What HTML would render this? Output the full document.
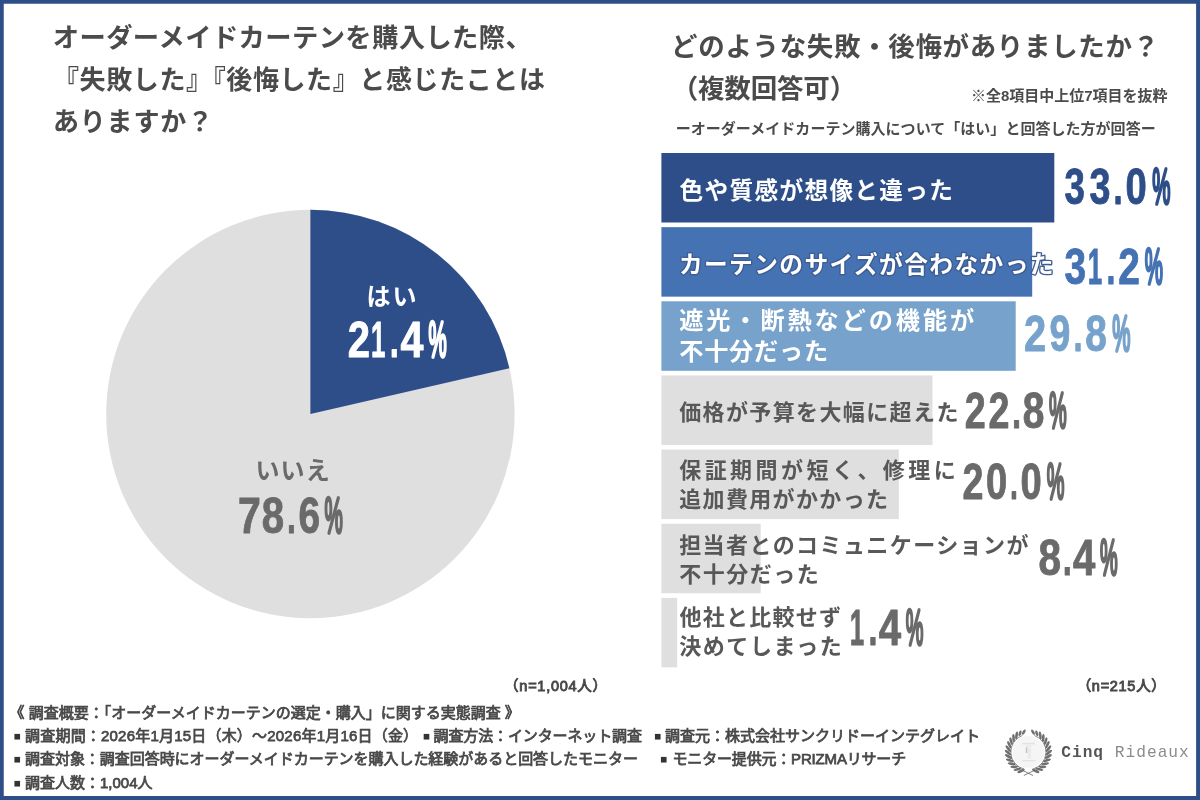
<!DOCTYPE html>
<html lang="ja"><head><meta charset="utf-8"><title>オーダーメイドカーテン調査</title>
<style>
html,body{margin:0;padding:0;background:#fff;}
body{width:1200px;height:800px;overflow:hidden;font-family:"Liberation Sans", "Noto Sans CJK JP", sans-serif;}
svg{display:block}
text{white-space:pre}
</style></head><body>
<svg width="1200" height="800" viewBox="0 0 1200 800">
<rect width="1200" height="800" fill="#fff"/>
<circle cx="310.4" cy="414" r="204.2" fill="#dfdfdf"/>
<path d="M310.4,414 L310.4,209.8 A204.2,204.2 0 0 1 509.40,368.20 Z" fill="#2e4e89"/>
<text x="52.8" y="47.2" font-size="26.3" font-weight="700" fill="#4b4b4b" font-family='"Liberation Sans", "Noto Sans CJK JP", sans-serif' textLength="479" lengthAdjust="spacing">オーダーメイドカーテンを購入した際、</text>
<text x="53" y="88.9" font-size="26" font-weight="700" fill="#4b4b4b" font-family='"Liberation Sans", "Noto Sans CJK JP", sans-serif' textLength="492" lengthAdjust="spacing">『失敗した』『後悔した』と感じたことは</text>
<text x="53" y="131.2" font-size="26" font-weight="700" fill="#4b4b4b" font-family='"Liberation Sans", "Noto Sans CJK JP", sans-serif' textLength="160" lengthAdjust="spacing">ありますか？</text>
<text x="671.1" y="55.5" font-size="26.5" font-weight="700" fill="#4b4b4b" font-family='"Liberation Sans", "Noto Sans CJK JP", sans-serif' textLength="488" lengthAdjust="spacing">どのような失敗・後悔がありましたか？</text>
<text x="671.7" y="97.7" font-size="26.5" font-weight="700" fill="#4b4b4b" font-family='"Liberation Sans", "Noto Sans CJK JP", sans-serif' textLength="184.5" lengthAdjust="spacing">（複数回答可）</text>
<text x="971" y="101" font-size="15" font-weight="700" fill="#4b4b4b" font-family='"Liberation Sans", "Noto Sans CJK JP", sans-serif' textLength="196.5" lengthAdjust="spacing">※全8項目中上位7項目を抜粋</text>
<text x="675.7" y="133.9" font-size="15" font-weight="700" fill="#4b4b4b" font-family='"Liberation Sans", "Noto Sans CJK JP", sans-serif' textLength="480" lengthAdjust="spacing">ーオーダーメイドカーテン購入について「はい」と回答した方が回答ー</text>
<rect x="661.4" y="153.0" width="392.9" height="69.5" fill="#2e4e89"/>
<rect x="661.4" y="227.15" width="370.80000000000007" height="69.5" fill="#4472b3"/>
<rect x="661.4" y="301.3" width="354.30000000000007" height="69.5" fill="#77a2cb"/>
<rect x="661.4" y="375.45000000000005" width="271.1" height="69.5" fill="#dfdfdf"/>
<rect x="661.4" y="449.6" width="237.39999999999998" height="69.5" fill="#dfdfdf"/>
<rect x="661.4" y="523.75" width="99.30000000000007" height="69.5" fill="#dfdfdf"/>
<rect x="661.4" y="597.9000000000001" width="15.800000000000068" height="69.5" fill="#dfdfdf"/>
<text x="679.6" y="198.8" font-size="23.7" font-weight="700" fill="#fff" font-family='"Liberation Sans", "Noto Sans CJK JP", sans-serif' textLength="273.34" lengthAdjust="spacing">色や質感が想像と違った</text>
<text x="678.9" y="272.5" font-size="23.7" font-weight="700" fill="#fff" font-family='"Liberation Sans", "Noto Sans CJK JP", sans-serif' textLength="374.54" lengthAdjust="spacing" stroke="#3c5c93" stroke-width="2.7" paint-order="stroke" stroke-linejoin="round">カーテンのサイズが合わなかった</text>
<text x="679.2" y="328.8" font-size="24.2" font-weight="700" fill="#fff" font-family='"Liberation Sans", "Noto Sans CJK JP", sans-serif' textLength="295.03" lengthAdjust="spacing">遮光・断熱などの機能が</text>
<text x="679.2" y="359.8" font-size="24.2" font-weight="700" fill="#fff" font-family='"Liberation Sans", "Noto Sans CJK JP", sans-serif' textLength="148.98" lengthAdjust="spacing">不十分だった</text>
<text x="679.2" y="420.2" font-size="22" font-weight="700" fill="#585858" font-family='"Liberation Sans", "Noto Sans CJK JP", sans-serif' textLength="279.2" lengthAdjust="spacing">価格が予算を大幅に超えた</text>
<text x="679.2" y="477.7" font-size="22" font-weight="700" fill="#585858" font-family='"Liberation Sans", "Noto Sans CJK JP", sans-serif' textLength="276.6" lengthAdjust="spacing">保証期間が短く、修理に</text>
<text x="679.2" y="507.2" font-size="22" font-weight="700" fill="#585858" font-family='"Liberation Sans", "Noto Sans CJK JP", sans-serif' textLength="208.8" lengthAdjust="spacing">追加費用がかかった</text>
<text x="679.2" y="553" font-size="22" font-weight="700" fill="#585858" font-family='"Liberation Sans", "Noto Sans CJK JP", sans-serif' textLength="349.24" lengthAdjust="spacing">担当者とのコミュニケーションが</text>
<text x="679.2" y="582" font-size="22" font-weight="700" fill="#585858" font-family='"Liberation Sans", "Noto Sans CJK JP", sans-serif' textLength="139.5" lengthAdjust="spacing">不十分だった</text>
<text x="679.5" y="624.8" font-size="22" font-weight="700" fill="#585858" font-family='"Liberation Sans", "Noto Sans CJK JP", sans-serif' textLength="161.42" lengthAdjust="spacing">他社と比較せず</text>
<text x="679.2" y="654.3" font-size="22" font-weight="700" fill="#585858" font-family='"Liberation Sans", "Noto Sans CJK JP", sans-serif' textLength="162.6" lengthAdjust="spacing">決めてしまった</text>
<text x="366.4" y="305.3" font-size="24" font-weight="700" fill="#fff" font-family='"Liberation Sans", "Noto Sans CJK JP", sans-serif' textLength="49.99" lengthAdjust="spacing">はい</text>
<text x="255.4" y="478.6" font-size="24" font-weight="700" fill="#6a6a6a" font-family='"Liberation Sans", "Noto Sans CJK JP", sans-serif' textLength="74.42" lengthAdjust="spacing">いいえ</text>
<text y="203.6" font-size="50" font-weight="700" fill="#2e4e89" stroke="#2e4e89" stroke-width="0.9" stroke-linejoin="round" font-family='"Liberation Sans", sans-serif'><tspan x="1064.54" textLength="20.38" lengthAdjust="spacingAndGlyphs">3</tspan><tspan x="1089.47" textLength="20.94" lengthAdjust="spacingAndGlyphs">3</tspan><tspan x="1113.56" textLength="9.11" lengthAdjust="spacingAndGlyphs">.</tspan><tspan x="1125.62" textLength="21.24" lengthAdjust="spacingAndGlyphs">0</tspan><tspan x="1152.37" textLength="18.21" lengthAdjust="spacingAndGlyphs" stroke-width="3.5" font-weight="400">%</tspan></text>
<text y="284.2" font-size="50" font-weight="700" fill="#4472b3" stroke="#4472b3" stroke-width="0.9" stroke-linejoin="round" font-family='"Liberation Sans", sans-serif'><tspan x="1064.50" textLength="21.56" lengthAdjust="spacingAndGlyphs">3</tspan><tspan x="1087.76" textLength="14.46" lengthAdjust="spacingAndGlyphs">1</tspan><tspan x="1106.61" textLength="8.92" lengthAdjust="spacingAndGlyphs">.</tspan><tspan x="1118.25" textLength="21.63" lengthAdjust="spacingAndGlyphs">2</tspan><tspan x="1144.77" textLength="18.21" lengthAdjust="spacingAndGlyphs" stroke-width="3.5" font-weight="400">%</tspan></text>
<text y="351.3" font-size="50" font-weight="700" fill="#77a2cb" stroke="#77a2cb" stroke-width="0.9" stroke-linejoin="round" font-family='"Liberation Sans", sans-serif'><tspan x="1024.07" textLength="22.15" lengthAdjust="spacingAndGlyphs">2</tspan><tspan x="1049.60" textLength="20.80" lengthAdjust="spacingAndGlyphs">9</tspan><tspan x="1073.56" textLength="9.11" lengthAdjust="spacingAndGlyphs">.</tspan><tspan x="1085.35" textLength="21.65" lengthAdjust="spacingAndGlyphs">8</tspan><tspan x="1112.37" textLength="18.21" lengthAdjust="spacingAndGlyphs" stroke-width="3.5" font-weight="400">%</tspan></text>
<text y="428.2" font-size="50" font-weight="700" fill="#6a6a6a" stroke="#6a6a6a" stroke-width="0.9" stroke-linejoin="round" font-family='"Liberation Sans", sans-serif'><tspan x="964.69" textLength="20.94" lengthAdjust="spacingAndGlyphs">2</tspan><tspan x="988.49" textLength="20.94" lengthAdjust="spacingAndGlyphs">2</tspan><tspan x="1011.96" textLength="9.11" lengthAdjust="spacingAndGlyphs">.</tspan><tspan x="1022.65" textLength="21.65" lengthAdjust="spacingAndGlyphs">8</tspan><tspan x="1049.09" textLength="17.68" lengthAdjust="spacingAndGlyphs" stroke-width="3.5" font-weight="400">%</tspan></text>
<text y="498.9" font-size="50" font-weight="700" fill="#6a6a6a" stroke="#6a6a6a" stroke-width="0.9" stroke-linejoin="round" font-family='"Liberation Sans", sans-serif'><tspan x="962.39" textLength="20.94" lengthAdjust="spacingAndGlyphs">2</tspan><tspan x="985.92" textLength="21.24" lengthAdjust="spacingAndGlyphs">0</tspan><tspan x="1009.94" textLength="7.95" lengthAdjust="spacingAndGlyphs">.</tspan><tspan x="1020.62" textLength="21.24" lengthAdjust="spacingAndGlyphs">0</tspan><tspan x="1046.79" textLength="17.68" lengthAdjust="spacingAndGlyphs" stroke-width="3.5" font-weight="400">%</tspan></text>
<text y="575" font-size="50" font-weight="700" fill="#6a6a6a" stroke="#6a6a6a" stroke-width="0.9" stroke-linejoin="round" font-family='"Liberation Sans", sans-serif'><tspan x="1038.60" textLength="22.55" lengthAdjust="spacingAndGlyphs">8</tspan><tspan x="1062.86" textLength="9.11" lengthAdjust="spacingAndGlyphs">.</tspan><tspan x="1073.08" textLength="22.32" lengthAdjust="spacingAndGlyphs">4</tspan><tspan x="1099.99" textLength="17.68" lengthAdjust="spacingAndGlyphs" stroke-width="3.5" font-weight="400">%</tspan></text>
<text y="645.4" font-size="50" font-weight="700" fill="#6a6a6a" stroke="#6a6a6a" stroke-width="0.9" stroke-linejoin="round" font-family='"Liberation Sans", sans-serif'><tspan x="849.76" textLength="14.46" lengthAdjust="spacingAndGlyphs">1</tspan><tspan x="868.61" textLength="8.92" lengthAdjust="spacingAndGlyphs">.</tspan><tspan x="878.73" textLength="22.37" lengthAdjust="spacingAndGlyphs">4</tspan><tspan x="905.69" textLength="17.68" lengthAdjust="spacingAndGlyphs" stroke-width="3.5" font-weight="400">%</tspan></text>
<text y="357" font-size="50" font-weight="700" fill="#fff" stroke="#fff" stroke-width="0.9" stroke-linejoin="round" font-family='"Liberation Sans", sans-serif'><tspan x="347.82" textLength="22.21" lengthAdjust="spacingAndGlyphs">2</tspan><tspan x="371.06" textLength="14.46" lengthAdjust="spacingAndGlyphs">1</tspan><tspan x="389.76" textLength="9.11" lengthAdjust="spacingAndGlyphs">.</tspan><tspan x="400.46" textLength="22.94" lengthAdjust="spacingAndGlyphs">4</tspan><tspan x="428.57" textLength="18.21" lengthAdjust="spacingAndGlyphs" stroke-width="3.5" font-weight="400">%</tspan></text>
<text y="532.6" font-size="50" font-weight="700" fill="#6a6a6a" stroke="#6a6a6a" stroke-width="0.9" stroke-linejoin="round" font-family='"Liberation Sans", sans-serif'><tspan x="237.97" textLength="22.84" lengthAdjust="spacingAndGlyphs">7</tspan><tspan x="261.71" textLength="22.32" lengthAdjust="spacingAndGlyphs">8</tspan><tspan x="286.91" textLength="8.92" lengthAdjust="spacingAndGlyphs">.</tspan><tspan x="298.42" textLength="21.63" lengthAdjust="spacingAndGlyphs">6</tspan><tspan x="324.47" textLength="18.31" lengthAdjust="spacingAndGlyphs" stroke-width="3.5" font-weight="400">%</tspan></text>
<text x="504.1" y="691.1" font-size="14.5" font-weight="400" fill="#484848" font-family='"Liberation Sans", "Noto Sans CJK JP", sans-serif' textLength="103.0" lengthAdjust="spacing" stroke="#484848" stroke-width="0.9">（n=1,004人）</text>
<text x="1076.65" y="691.1" font-size="14.5" font-weight="400" fill="#484848" font-family='"Liberation Sans", "Noto Sans CJK JP", sans-serif' textLength="89.2" lengthAdjust="spacing" stroke="#484848" stroke-width="0.9">（n=215人）</text>
<text x="9.6" y="717.6" font-size="15" font-weight="400" fill="#484848" font-family='"Liberation Sans", "Noto Sans CJK JP", sans-serif' stroke="#484848" stroke-width="0.75">《 調査概要：「オーダーメイドカーテンの選定・購入」に関する実態調査 》</text>
<text x="13.48" y="739.70" font-size="11.67" fill="#333" font-family='"Liberation Sans", sans-serif'>■</text>
<text x="25" y="741.2" font-size="15" font-weight="400" fill="#484848" font-family='"Liberation Sans", "Noto Sans CJK JP", sans-serif' textLength="393.1" lengthAdjust="spacing" stroke="#484848" stroke-width="0.75">調査期間：2026年1月15日（木）～2026年1月16日（金）</text>
<text x="422.78" y="739.70" font-size="11.67" fill="#333" font-family='"Liberation Sans", sans-serif'>■</text>
<text x="433.5" y="741.2" font-size="15" font-weight="400" fill="#484848" font-family='"Liberation Sans", "Noto Sans CJK JP", sans-serif' textLength="208.5" lengthAdjust="spacing" stroke="#484848" stroke-width="0.75">調査方法：インターネット調査</text>
<text x="653.98" y="739.70" font-size="11.67" fill="#333" font-family='"Liberation Sans", sans-serif'>■</text>
<text x="665" y="741.2" font-size="15" font-weight="400" fill="#484848" font-family='"Liberation Sans", "Noto Sans CJK JP", sans-serif' stroke="#484848" stroke-width="0.75">調査元：株式会社サンクリドーインテグレイト</text>
<text x="13.48" y="762.80" font-size="11.67" fill="#333" font-family='"Liberation Sans", sans-serif'>■</text>
<text x="25" y="764.3" font-size="15" font-weight="400" fill="#484848" font-family='"Liberation Sans", "Noto Sans CJK JP", sans-serif' textLength="612.9" lengthAdjust="spacing" stroke="#484848" stroke-width="0.75">調査対象：調査回答時にオーダーメイドカーテンを購入した経験があると回答したモニター</text>
<text x="660.08" y="762.80" font-size="11.67" fill="#333" font-family='"Liberation Sans", sans-serif'>■</text>
<text x="672.5" y="764.3" font-size="15" font-weight="400" fill="#484848" font-family='"Liberation Sans", "Noto Sans CJK JP", sans-serif' textLength="233.7" lengthAdjust="spacing" stroke="#484848" stroke-width="0.75">モニター提供元：PRIZMAリサーチ</text>
<text x="13.48" y="786.50" font-size="11.67" fill="#333" font-family='"Liberation Sans", sans-serif'>■</text>
<text x="25" y="788" font-size="15" font-weight="400" fill="#484848" font-family='"Liberation Sans", "Noto Sans CJK JP", sans-serif' stroke="#484848" stroke-width="0.75">調査人数：1,004人</text>
<circle cx="1028.4" cy="752.0" r="16" fill="#f5f5f5"/>
<g fill="#e3e3e3"><rect x="1021.9000000000001" y="742.8" width="13" height="1.6"/><rect x="1025.4" y="745.6" width="6" height="1"/><rect x="1025.8000000000002" y="747.5" width="1.8" height="5.5" fill="#c4c4c4"/><rect x="1027.4" y="747.5" width="3.6" height="11" fill="#ebebeb"/><rect x="1022.4000000000001" y="760.0" width="13" height="1.4"/></g>
<ellipse cx="1021.09" cy="771.05" rx="4.0" ry="1.35" fill="#707070" transform="rotate(154.0 1021.09 771.05)"/>
<ellipse cx="1017.52" cy="769.26" rx="4.0" ry="1.35" fill="#707070" transform="rotate(165.2 1017.52 769.26)"/>
<ellipse cx="1014.37" cy="766.81" rx="4.0" ry="1.35" fill="#707070" transform="rotate(176.5 1014.37 766.81)"/>
<ellipse cx="1011.75" cy="763.79" rx="4.0" ry="1.35" fill="#707070" transform="rotate(-172.3 1011.75 763.79)"/>
<ellipse cx="1009.77" cy="760.32" rx="4.0" ry="1.35" fill="#707070" transform="rotate(-161.1 1009.77 760.32)"/>
<ellipse cx="1008.51" cy="756.54" rx="4.0" ry="1.35" fill="#707070" transform="rotate(-149.8 1008.51 756.54)"/>
<ellipse cx="1008.01" cy="752.58" rx="4.0" ry="1.35" fill="#707070" transform="rotate(-138.6 1008.01 752.58)"/>
<ellipse cx="1008.29" cy="748.59" rx="4.0" ry="1.35" fill="#707070" transform="rotate(-127.4 1008.29 748.59)"/>
<ellipse cx="1009.34" cy="744.74" rx="4.0" ry="1.35" fill="#707070" transform="rotate(-116.2 1009.34 744.74)"/>
<ellipse cx="1011.11" cy="741.17" rx="4.0" ry="1.35" fill="#707070" transform="rotate(-104.9 1011.11 741.17)"/>
<ellipse cx="1013.56" cy="738.01" rx="4.0" ry="1.35" fill="#707070" transform="rotate(-93.7 1013.56 738.01)"/>
<ellipse cx="1016.56" cy="735.38" rx="4.0" ry="1.35" fill="#707070" transform="rotate(-82.5 1016.56 735.38)"/>
<ellipse cx="1020.03" cy="733.40" rx="3.0" ry="1.35" fill="#707070" transform="rotate(-71.2 1020.03 733.40)"/>
<ellipse cx="1023.81" cy="732.12" rx="3.0" ry="1.35" fill="#707070" transform="rotate(-60.0 1023.81 732.12)"/>
<ellipse cx="1035.71" cy="771.05" rx="4.0" ry="1.35" fill="#707070" transform="rotate(26.0 1035.71 771.05)"/>
<ellipse cx="1039.28" cy="769.26" rx="4.0" ry="1.35" fill="#707070" transform="rotate(14.8 1039.28 769.26)"/>
<ellipse cx="1042.43" cy="766.81" rx="4.0" ry="1.35" fill="#707070" transform="rotate(3.5 1042.43 766.81)"/>
<ellipse cx="1045.05" cy="763.79" rx="4.0" ry="1.35" fill="#707070" transform="rotate(-7.7 1045.05 763.79)"/>
<ellipse cx="1047.03" cy="760.32" rx="4.0" ry="1.35" fill="#707070" transform="rotate(-18.9 1047.03 760.32)"/>
<ellipse cx="1048.29" cy="756.54" rx="4.0" ry="1.35" fill="#707070" transform="rotate(-30.2 1048.29 756.54)"/>
<ellipse cx="1048.79" cy="752.58" rx="4.0" ry="1.35" fill="#707070" transform="rotate(-41.4 1048.79 752.58)"/>
<ellipse cx="1048.51" cy="748.59" rx="4.0" ry="1.35" fill="#707070" transform="rotate(-52.6 1048.51 748.59)"/>
<ellipse cx="1047.46" cy="744.74" rx="4.0" ry="1.35" fill="#707070" transform="rotate(-63.8 1047.46 744.74)"/>
<ellipse cx="1045.69" cy="741.17" rx="4.0" ry="1.35" fill="#707070" transform="rotate(-75.1 1045.69 741.17)"/>
<ellipse cx="1043.24" cy="738.01" rx="4.0" ry="1.35" fill="#707070" transform="rotate(-86.3 1043.24 738.01)"/>
<ellipse cx="1040.24" cy="735.38" rx="4.0" ry="1.35" fill="#707070" transform="rotate(-97.5 1040.24 735.38)"/>
<ellipse cx="1036.77" cy="733.40" rx="3.0" ry="1.35" fill="#707070" transform="rotate(-108.8 1036.77 733.40)"/>
<ellipse cx="1032.99" cy="732.12" rx="3.0" ry="1.35" fill="#707070" transform="rotate(-120.0 1032.99 732.12)"/>
<path d="M1024.14,769.08 A17.6,17.6 0 0 1 1022.38,735.46" stroke="#707070" stroke-width="0.8" fill="none"/>
<path d="M1032.66,769.08 A17.6,17.6 0 0 0 1034.42,735.46" stroke="#707070" stroke-width="0.8" fill="none"/>
<path d="M1024.2,775.3 Q1029.4,772.8 1033.9,770.5 M1032.6000000000001,775.3 Q1027.4,772.8 1022.9000000000001,770.5" stroke="#707070" stroke-width="0.9" fill="none" stroke-linecap="round"/>
<text x="1061.2" y="756.6" font-size="16.2" font-family='"Liberation Mono", monospace' fill="#555" textLength="127.6" lengthAdjust="spacing"><tspan font-weight="700">Cinq</tspan><tspan fill="#8c8c8c" font-weight="400"> Rideaux</tspan></text>
<path d="M0,0H1200V800H0Z M3.75,3.75V796H1196.1V3.75Z" fill="#2e4e89" fill-rule="evenodd"/>
</svg>
</body></html>
